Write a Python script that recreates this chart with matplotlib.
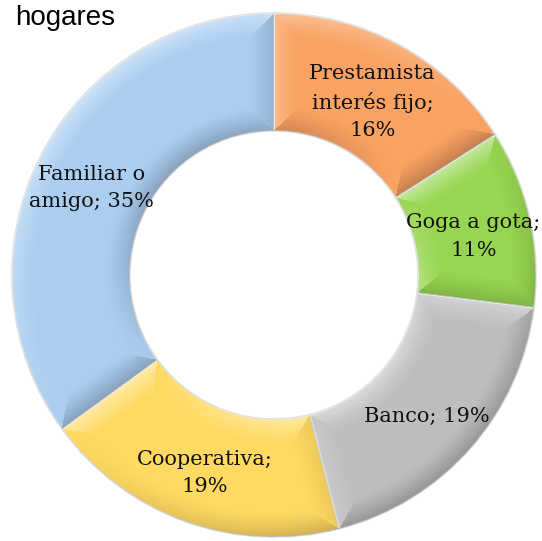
import matplotlib
matplotlib.use("Agg")
import matplotlib.pyplot as plt
import numpy as np

# ---- data ----
title = "hogares"
categories = ["Prestamista\ninterés fijo", "Goga a gota", "Banco", "Cooperativa", "Familiar o\namigo"]
values = [16, 11, 19, 19, 35]
label_sep = ["\n", "\n", " ", "\n", " "]
colors = ["#F9A262", "#97D650", "#BEBEBE", "#FFDA62", "#AACDF0"]

W, H = 542, 541
fig = plt.figure(figsize=(W / 100, H / 100), dpi=100)
ax = fig.add_axes([0, 0, 1, 1])

cx, cy, R = 274, H - 275, 262
ring = 0.45
r_in = R * (1 - ring)

labels = [f"{c};{s}{v}%" for c, s, v in zip(categories, label_sep, values)]
wedges, texts = ax.pie(
    values, labels=labels, colors=colors, startangle=90, counterclock=False,
    radius=R, center=(cx, cy), labeldistance=0.78,
    wedgeprops=dict(width=R * ring, edgecolor="#dedede", linewidth=1.2),
    textprops=dict(family="DejaVu Serif", fontsize=15, color="#111111",
                   linespacing=1.55, zorder=5),
)
for t in texts:
    t.set_horizontalalignment("center")
    t.set_verticalalignment("center")
    t.set_multialignment("center")
    x, y = t.get_position()
    t.set_position((x, y - 6))

# ---- bevel shading overlay (light from upper-left) ----
yy, xx = np.mgrid[0:H, 0:W] + 0.5
dx, dy = xx - cx, yy - cy
rr = np.hypot(dx, dy)
phi = np.degrees(np.arctan2(dy, dx))
L = np.array([-0.6, 0.8])
L = L / np.linalg.norm(L)
bev = 26.0
for w in wedges:
    t1, t2 = w.theta1, w.theta2
    span = t2 - t1
    rel = np.mod(phi - t1, 360.0)
    big = 1e6
    d_out = R - rr
    d_in = rr - r_in
    d_e1 = np.where(rel < 90, rr * np.sin(np.radians(rel)), big)
    d_e2 = np.where(span - rel < 90, rr * np.sin(np.radians(np.clip(span - rel, 0, 360))), big)
    ux, uy = dx / np.maximum(rr, 1e-6), dy / np.maximum(rr, 1e-6)
    a1, a2 = np.radians(t1), np.radians(t2)
    s_out = ux * L[0] + uy * L[1]
    s_in = -s_out
    s_e1 = np.sin(a1) * L[0] - np.cos(a1) * L[1]
    s_e2 = -np.sin(a2) * L[0] + np.cos(a2) * L[1]
    D = np.stack([d_out, d_in, d_e1, d_e2])
    S = np.stack([s_out, s_in, np.full_like(rr, s_e1), np.full_like(rr, s_e2)])
    idx = np.argmin(D, axis=0)
    d = np.take_along_axis(D, idx[None], 0)[0]
    s = np.take_along_axis(S, idx[None], 0)[0]
    inten = np.clip(1 - d / bev, 0, 1) ** 1.3
    img = np.zeros((H, W, 4))
    lit = s > 0
    img[..., :3] = np.where(lit[..., None], 1.0, 0.0)
    img[..., 3] = np.where(lit, 0.45 * s * inten, 0.22 * (-s) * inten)
    im = ax.imshow(img, extent=(0, W, 0, H), origin="lower", zorder=2,
                   interpolation="bilinear")
    im.set_clip_path(w)

ax.set_xlim(0, W)
ax.set_ylim(0, H)
ax.set_aspect("equal")
ax.axis("off")

fig.text(15 / W, 1 - 25 / H, title, family="Liberation Sans", fontsize=20,
         va="baseline", ha="left", color="black")

fig.savefig("out.png", dpi=100)
